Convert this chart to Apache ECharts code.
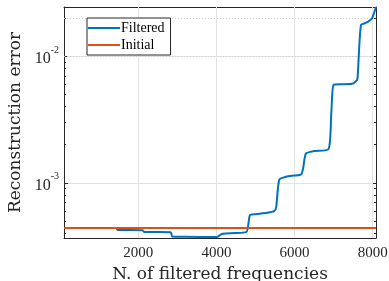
<!DOCTYPE html>
<html>
<head>
<meta charset="utf-8">
<script src="https://cdn.jsdelivr.net/npm/echarts@6/dist/echarts.min.js"></script>
<style>
html, body { margin: 0; padding: 0; background: #fff; }
#chart { width: 389px; height: 281px; }
</style>
</head>
<body>
<div id="chart"></div>
<script>
// x = number of filtered frequencies
const filteredX = [100, 1440, 1470, 2110, 2150, 2830, 2870, 3200, 4020, 4060, 4110, 4170, 4500, 4760, 4800, 4860, 5000, 5300, 5480, 5530, 5610, 5800, 6000, 6170, 6220, 6290, 6500, 6870, 6940, 7000, 7200, 7470, 7560, 7610, 7700, 7850, 7980, 8085];
const filteredY = [4.39e-4, 4.39e-4, 4.23e-4, 4.22e-4, 4.08e-4, 4.07e-4, 3.76e-4, 3.74e-4, 3.72e-4, 3.8e-4, 3.9e-4, 3.96e-4, 4.0e-4, 4.07e-4, 4.3e-4, 5.56e-4, 5.65e-4, 5.8e-4, 5.98e-4, 6.4e-4, 1.06e-3, 1.12e-3, 1.14e-3, 1.165e-3, 1.3e-3, 1.70e-3, 1.78e-3, 1.845e-3, 3.5e-3, 5.95e-3, 6.0e-3, 6.05e-3, 6.3e-3, 6.6e-3, 1.76e-2, 1.85e-2, 1.99e-2, 2.45e-2];
const initialX = [100, 8085];
const initialY = [4.39e-4, 4.39e-4];
const xTicks = [2000, 4000, 6000, 8000];
const minorGrid = [4e-4, 5e-4, 6e-4, 7e-4, 8e-4, 9e-4, 2e-3, 3e-3, 4e-3, 5e-3, 6e-3, 7e-3, 8e-3, 9e-3, 2e-2];

const serif = '"Liberation Serif", "DejaVu Serif", serif';
const nameFont = '"DejaVu Serif", serif';
const axisColor = '#262626';

let chart = echarts.init(document.getElementById('chart'));

function pairs(xs, ys) {
    return xs.map((x, i) => [x, ys[i]]);
}

let yLabel = function (v) {
    let e = Math.round(Math.log10(v));
    if (Math.abs(v - Math.pow(10, e)) / v > 1e-6) return '';
    return '{b|10}{s|' + e + '}';
};

let tickStyle = { show: true, inside: true, length: 4, lineStyle: { color: axisColor } };

let option = {
    animation: false,
    color: ['#0072BD', '#D95319'],
    grid: {
        left: 64,
        right: 13,
        top: 7,
        bottom: 43,
        outerBoundsMode: 'none'
    },
    legend: {
        data: ['Filtered', 'Initial'],
        orient: 'vertical',
        left: 87,
        top: 18,
        icon: 'rect',
        itemWidth: 32,
        itemHeight: 2,
        itemGap: 3,
        padding: [3, 6, 3, 1],
        backgroundColor: '#fff',
        borderColor: axisColor,
        borderWidth: 1,
        textStyle: {
            color: '#000',
            fontFamily: serif,
            fontSize: 14,
            padding: [0, 0, 0, -4]
        }
    },
    xAxis: [
        {
            type: 'value',
            min: 100,
            max: 8085,
            name: 'N. of filtered frequencies',
            nameLocation: 'middle',
            nameGap: 24,
            nameTextStyle: { fontFamily: nameFont, fontSize: 17, color: axisColor },
            axisLine: { lineStyle: { color: axisColor } },
            axisTick: Object.assign({ customValues: xTicks }, tickStyle),
            axisLabel: {
                customValues: xTicks,
                fontFamily: serif,
                fontSize: 15,
                color: axisColor,
                margin: 8,
                formatter: v => String(v)
            },
            splitLine: { show: false }
        },
        {
            type: 'value',
            position: 'top',
            min: 100,
            max: 8085,
            axisLine: { show: true, lineStyle: { color: axisColor } },
            axisTick: Object.assign({ customValues: xTicks }, tickStyle),
            axisLabel: { show: false },
            splitLine: { show: false }
        }
    ],
    yAxis: [
        {
            type: 'log',
            logBase: 10,
            min: 3.66e-4,
            max: 2.45e-2,
            name: 'Reconstruction error',
            nameLocation: 'middle',
            nameGap: 39,
            nameTextStyle: { fontFamily: nameFont, fontSize: 17, color: axisColor },
            axisLine: { show: true, lineStyle: { color: axisColor } },
            axisTick: tickStyle,
            minorTick: { show: true, splitNumber: 9, length: 2, lineStyle: { color: axisColor } },
            axisLabel: {
                color: axisColor,
                margin: 5,
                showMinLabel: false,
                showMaxLabel: false,
                formatter: yLabel,
                rich: {
                    b: { fontFamily: serif, fontSize: 16, color: axisColor, lineHeight: 22, verticalAlign: 'bottom' },
                    s: { fontFamily: serif, fontSize: 10, color: axisColor, lineHeight: 22, verticalAlign: 'top' }
                }
            },
            splitLine: { show: true, lineStyle: { color: '#e3e3e3' } }
        },
        {
            type: 'log',
            logBase: 10,
            position: 'right',
            min: 3.66e-4,
            max: 2.45e-2,
            axisLine: { show: true, lineStyle: { color: axisColor } },
            axisTick: tickStyle,
            minorTick: { show: true, splitNumber: 9, length: 2, lineStyle: { color: axisColor } },
            axisLabel: { show: false },
            splitLine: { show: false }
        }
    ],
    series: [
        {
            name: 'Filtered',
            type: 'line',
            data: pairs(filteredX, filteredY),
            showSymbol: false,
            smooth: 0.2,
            lineStyle: { width: 2 },
            z: 3,
            markLine: {
                silent: true,
                symbol: 'none',
                z: 1,
                label: { show: false },
                lineStyle: { color: '#d0d0d0', type: [1, 2], width: 1 },
                data: minorGrid.map(v => ({ yAxis: v }))
            }
        },
        {
            name: 'Initial',
            type: 'line',
            data: pairs(initialX, initialY),
            showSymbol: false,
            lineStyle: { width: 2 },
            z: 4,
            markLine: {
                silent: true,
                symbol: 'none',
                z: 1,
                label: { show: false },
                lineStyle: { color: '#e3e3e3', type: 'solid', width: 1 },
                data: xTicks.map(v => ({ xAxis: v }))
            }
        }
    ]
};
chart.setOption(option);
window.addEventListener("resize", () => {
    chart.resize();
});
</script>
</body>
</html>
